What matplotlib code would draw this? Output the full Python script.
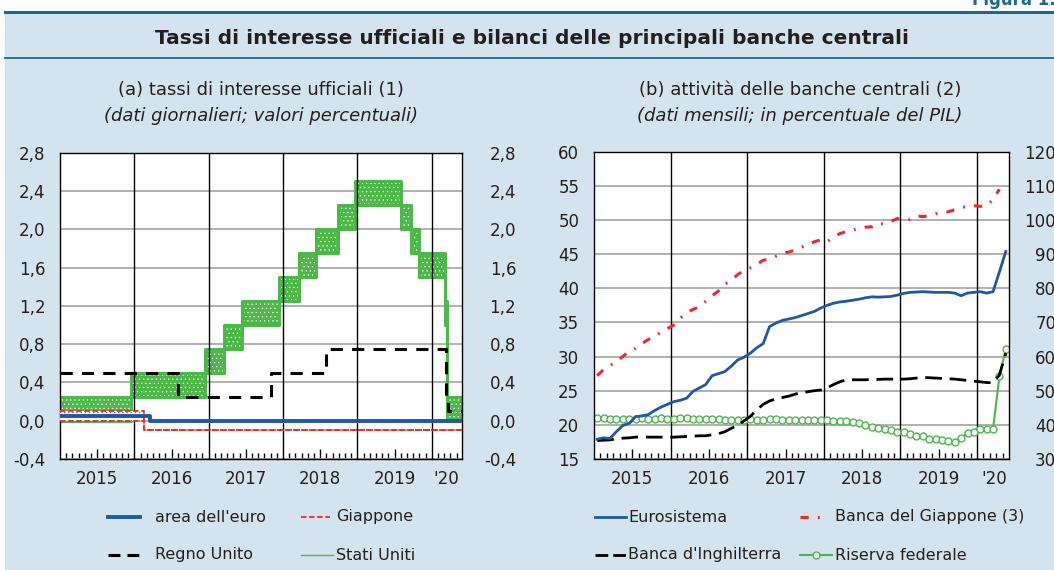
import numpy as np
import matplotlib.pyplot as plt
from matplotlib.lines import Line2D
from matplotlib.patches import Rectangle

plt.rcParams["font.family"] = ["DejaVu Sans"]
plt.rcParams["hatch.linewidth"] = 0.4

# ---- panel (a): official rates, step changes (percent) ----
euro_dates = ["2015-01-01", "2016-03-16", "2020-05-29"]
euro_rate = [0.05, 0.0, 0.0]

japan_dates = ["2015-01-01", "2016-02-16", "2020-05-29"]
japan_low = [0.0, -0.1, -0.1]
japan_high = [0.1, -0.1, -0.1]

uk_dates = ["2015-01-01", "2016-08-04", "2017-11-02", "2018-08-02",
            "2020-03-11", "2020-03-19", "2020-05-29"]
uk_rate = [0.5, 0.25, 0.5, 0.75, 0.25, 0.1, 0.1]

us_dates = ["2015-01-01", "2015-12-17", "2016-12-15", "2017-03-16", "2017-06-15",
            "2017-12-14", "2018-03-22", "2018-06-14", "2018-09-27", "2018-12-20",
            "2019-08-01", "2019-09-19", "2019-10-31", "2020-03-04", "2020-03-16",
            "2020-05-29"]
us_low = [0.0, 0.25, 0.5, 0.75, 1.0, 1.25, 1.5, 1.75, 2.0, 2.25,
          2.0, 1.75, 1.5, 1.0, 0.0, 0.0]
us_high = [0.25, 0.5, 0.75, 1.0, 1.25, 1.5, 1.75, 2.0, 2.25, 2.5,
           2.25, 2.0, 1.75, 1.25, 0.25, 0.25]

# ---- panel (b): central bank assets, monthly Jan 2015 - May 2020 (% of GDP) ----
eurosistema = [17.9, 18.1, 18.0, 19.0, 19.9, 20.2, 21.2, 21.3, 21.5, 22.1, 22.6, 23.0,
               23.4, 23.6, 23.9, 24.9, 25.4, 25.9, 27.2, 27.5, 27.8, 28.6, 29.5, 29.9,
               30.5, 31.3, 31.9, 34.4, 34.9, 35.3, 35.5, 35.7, 36.0, 36.3, 36.6, 37.1,
               37.5, 37.8, 38.0, 38.1, 38.25, 38.4, 38.6, 38.75, 38.7, 38.75, 38.8, 39.0,
               39.25, 39.4, 39.45, 39.5, 39.45, 39.4, 39.4, 39.4, 39.3, 38.9, 39.3, 39.4,
               39.5, 39.3, 39.5, 42.4, 45.4]
inghilterra = [17.7, 17.75, 17.8, 17.95, 18.05, 18.1, 18.2, 18.25, 18.2, 18.2, 18.2, 18.2,
               18.2, 18.25, 18.3, 18.35, 18.4, 18.4, 18.55, 18.7, 19.0, 19.5, 19.9, 20.6,
               21.25, 22.2, 23.0, 23.5, 23.8, 24.0, 24.2, 24.5, 24.7, 24.85, 25.0, 25.1,
               25.4, 25.9, 26.3, 26.6, 26.6, 26.6, 26.6, 26.65, 26.65, 26.7, 26.7, 26.7,
               26.7, 26.75, 26.85, 26.95, 26.9, 26.85, 26.8, 26.75, 26.7, 26.6, 26.5, 26.4,
               26.3, 26.2, 26.15, 27.3, 30.5]
riserva_fed = [21.0, 20.95, 20.9, 20.85, 20.8, 20.85, 20.9, 20.95, 20.9, 20.9, 20.95, 20.9,
               20.9, 20.95, 20.95, 20.9, 20.85, 20.85, 20.8, 20.8, 20.75, 20.75, 20.75, 20.75,
               20.8, 20.75, 20.75, 20.8, 20.8, 20.75, 20.75, 20.75, 20.75, 20.75, 20.75, 20.7,
               20.7, 20.6, 20.5, 20.5, 20.4, 20.2, 20.0, 19.75, 19.6, 19.4, 19.3, 19.0,
               19.0, 18.7, 18.4, 18.3, 18.0, 17.9, 17.8, 17.65, 17.55, 18.05, 18.8, 19.0,
               19.4, 19.4, 19.4, 27.1, 31.1]
# right-hand scale
giappone_boj = [54.4, 56.2, 57.4, 58.4, 60.0, 61.6, 62.4, 63.8, 65.0, 65.8, 67.2, 68.2,
                69.2, 71.2, 72.8, 73.8, 74.6, 76.2, 77.8, 79.2, 81.2, 82.4, 84.0, 85.2,
                86.0, 87.0, 88.2, 88.6, 89.4, 90.2, 90.6, 91.2, 92.0, 92.8, 93.6, 94.2,
                93.6, 95.0, 96.0, 96.6, 97.0, 97.6, 97.9, 98.0, 99.0, 98.8, 99.6, 100.4,
                100.2, 100.2, 101.2, 101.0, 101.2, 101.8, 102.2, 102.4, 103.0, 103.6, 104.0, 104.2,
                104.0, 104.2, 106.0, 109.0]

year_labels = ["2015", "2016", "2017", "2018", "2019", "'20"]
ticks_a = [-0.4, 0.0, 0.4, 0.8, 1.2, 1.6, 2.0, 2.4, 2.8]
ticks_b = [15, 20, 25, 30, 35, 40, 45, 50, 55, 60]
ticks_b_right = [30, 40, 50, 60, 70, 80, 90, 100, 110, 120]

BG = "#d4e4ee"
TEAL = "#1b6a8d"
BLUE = "#2058a8"
RED = "#ec2a2c"
GREEN = "#4cb848"
GRID = "#a3a3a3"
TXT = "#231f20"


def to_year(dates):
    d = np.array(dates, dtype="datetime64[D]")
    y = d.astype("datetime64[Y]")
    start = y.astype("datetime64[D]")
    end = (y + 1).astype("datetime64[D]")
    return 1970 + y.astype(int) + (d - start).astype(float) / (end - start).astype(float)


def comma(v):
    return f"{v:.1f}".replace(".", ",")


W, H = 1054, 570
fig = plt.figure(figsize=(W / 100, H / 100), dpi=100)
fig.patch.set_facecolor("white")
fig.add_artist(Rectangle((5 / W, 0), 1, 1 - 12 / H, transform=fig.transFigure,
                         facecolor=BG, edgecolor="none", zorder=-10))
fig.add_artist(Line2D([5 / W, 1], [1 - 12 / H] * 2, transform=fig.transFigure,
                      color=TEAL, lw=2.2))
fig.add_artist(Line2D([5 / W, 1], [1 - 58 / H] * 2, transform=fig.transFigure,
                      color=TEAL, lw=1.3))
fig.text(532 / W, 1 - 38 / H,
         "Tassi di interesse ufficiali e bilanci delle principali banche centrali",
         ha="center", va="center", fontsize=14.5, fontweight="bold", color=TXT)
fig.text(972 / W, 1 - 5 / H, "Figura 1.", ha="left", va="baseline",
         fontsize=12, fontweight="bold", color=TEAL)

ax1 = fig.add_axes([60 / W, 1 - 459 / H, 402 / W, 306.3 / H])
ax2 = fig.add_axes([594 / W, 1 - 459 / H, 415 / W, 307.3 / H])

# ---------------- panel (a) ----------------
x_us = to_year(us_dates)
ax1.fill_between(x_us, us_low, us_high, step="post", facecolor=GREEN,
                 edgecolor="white", hatch="....", linewidth=0, zorder=2)
ax1.step(x_us, us_low, where="post", color=GREEN, lw=2.2, zorder=2)
ax1.step(x_us, us_high, where="post", color=GREEN, lw=2.2, zorder=2)

x_jp = to_year(japan_dates)
ax1.fill_between(x_jp[:2], japan_low[:2], japan_high[:2], step="post", facecolor="white",
                 edgecolor=RED, hatch="....", linewidth=0, zorder=3)
ax1.step(x_jp, japan_high, where="post", color=RED, lw=1.3, ls=(0, (3, 1.5)), zorder=3)
ax1.step(x_jp, japan_low, where="post", color=RED, lw=1.3, ls=(0, (3, 1.5)), zorder=3)

ax1.step(to_year(euro_dates), euro_rate, where="post", color=BLUE, lw=2.8, zorder=4)
ax1.step(to_year(uk_dates), uk_rate, where="post", color="black", lw=2.2,
         ls=(0, (4, 3)), zorder=5)

ax1.set_xlim(2015, to_year(["2020-05-29"])[0])
ax1.set_ylim(-0.4, 2.8)
ax1.set_yticks(ticks_a)
ax1.set_yticklabels([comma(v) for v in ticks_a])
ax1.yaxis.grid(True, color=GRID, lw=1.2)
ax1.set_axisbelow(True)
for yr in range(2016, 2021):
    ax1.axvline(yr, color="black", lw=1, zorder=2.5)
months_a = [2015 + k / 12 for k in range(1, 65) if k % 12 != 0]
ax1.set_xticks([2015 + k / 12 for k in range(6, 65, 12)])
ax1.set_xticks(months_a, minor=True)
ax1.set_xticklabels([])
for i, lab in enumerate(year_labels):
    xc = 2015.5 + i if i < 5 else 2020.2
    ax1.text(xc, -0.064, lab, transform=ax1.get_xaxis_transform(),
             ha="center", va="center", fontsize=12, color=TXT)

ax1r = ax1.twinx()
ax1r.set_ylim(ax1.get_ylim())
ax1r.set_yticks(ticks_a)
ax1r.set_yticklabels([comma(v) for v in ticks_a])

# ---------------- panel (b) ----------------
xm = np.arange(len(eurosistema)) + 0.5
ax2.plot(xm, riserva_fed, color=GREEN, lw=1.5, marker="o", ms=5, mfc="white",
         mec=GREEN, mew=1, zorder=2)
ax2.plot(xm, inghilterra, color="black", lw=2, ls=(0, (6, 2.8)), zorder=3)
ax2.plot(xm, eurosistema, color=BLUE, lw=2, zorder=4)
ax2.set_xlim(0, 65)
ax2.set_ylim(15, 60)
ax2.set_yticks(ticks_b)
ax2.set_yticklabels([str(v) for v in ticks_b])
ax2.yaxis.grid(True, color=GRID, lw=1.2)
ax2.set_axisbelow(True)
for m in range(12, 61, 12):
    ax2.axvline(m, color="black", lw=1, zorder=1.5)
ax2.set_xticks(list(range(6, 65, 12)))
ax2.set_xticks([k for k in range(1, 65) if k % 12 != 0], minor=True)
ax2.set_xticklabels([])
for i, lab in enumerate(year_labels):
    xc = 6 + 12 * i if i < 5 else 62.7
    ax2.text(xc, -0.064, lab, transform=ax2.get_xaxis_transform(),
             ha="center", va="center", fontsize=12, color=TXT)

ax2r = ax2.twinx()
ax2r.plot(np.arange(len(giappone_boj)) + 0.5, giappone_boj, color=RED, lw=2.2,
          ls=(0, (2.7, 3, 0.6, 3)), zorder=3)
ax2r.set_ylim(30, 120)
ax2r.set_yticks(ticks_b_right)
ax2r.set_yticklabels([str(v) for v in ticks_b_right])

for ax in (ax1, ax2):
    ax.tick_params(axis="x", which="major", direction="in", length=7, width=1, color="black")
    ax.tick_params(axis="x", which="minor", direction="in", length=4, width=1, color="black")
    ax.tick_params(axis="y", length=0, labelsize=12, labelcolor=TXT, pad=10.6)
    for s in ax.spines.values():
        s.set_linewidth(1)
for ax, pad in ((ax1r, 39), (ax2r, 34)):
    ax.tick_params(axis="y", length=0, labelsize=12, labelcolor=TXT, pad=pad)
    for t in ax.get_yticklabels():
        t.set_horizontalalignment("right")
    for s in ax.spines.values():
        s.set_visible(False)

# subtitles
fig.text(261 / W, 1 - 90 / H, "(a) tassi di interesse ufficiali (1)",
         ha="center", va="center", fontsize=13, color=TXT)
fig.text(261 / W, 1 - 116 / H, "(dati giornalieri; valori percentuali)",
         ha="center", va="center", fontsize=13, style="italic", color=TXT)
fig.text(800 / W, 1 - 90 / H, "(b) attività delle banche centrali (2)",
         ha="center", va="center", fontsize=13, color=TXT)
fig.text(800 / W, 1 - 116 / H, "(dati mensili; in percentuale del PIL)",
         ha="center", va="center", fontsize=13, style="italic", color=TXT)


# legends (figure coordinates)
def leg(x0, x1, y, text, tx, **kw):
    fig.add_artist(Line2D([x0 / W, x1 / W], [1 - y / H] * 2, transform=fig.transFigure, **kw))
    fig.text(tx / W, 1 - y / H, text, ha="left", va="center", fontsize=11.5, color=TXT)


leg(108, 140, 517, "area dell'euro", 155, color=BLUE, lw=2.8)
leg(301, 330, 517, "Giappone", 336, color=RED, lw=1.3, ls=(0, (3, 1.5)))
leg(108, 140, 555, "Regno Unito", 155, color="black", lw=2.2, ls=(0, (3.9, 2.3)))
leg(301, 333, 555, "Stati Uniti", 336, color=GREEN, lw=1)
leg(595, 626, 517, "Eurosistema", 628, color=BLUE, lw=2)
leg(800, 823, 517, "Banca del Giappone (3)", 835, color=RED, lw=2.2, ls=(0, (2.7, 3, 0.6, 3)))
leg(595, 626, 555, "Banca d'Inghilterra", 628, color="black", lw=2, ls=(0, (4.6, 1.8)))
fig.add_artist(Line2D([800 / W, 816 / W, 832 / W], [1 - 555 / H] * 3, transform=fig.transFigure,
                      color=GREEN, lw=1.5, marker="o", ms=5, mfc="white", mec=GREEN,
                      markevery=[1]))
fig.text(835 / W, 1 - 555 / H, "Riserva federale", ha="left", va="center", fontsize=11.5, color=TXT)

fig.savefig("out.png", dpi=100)
